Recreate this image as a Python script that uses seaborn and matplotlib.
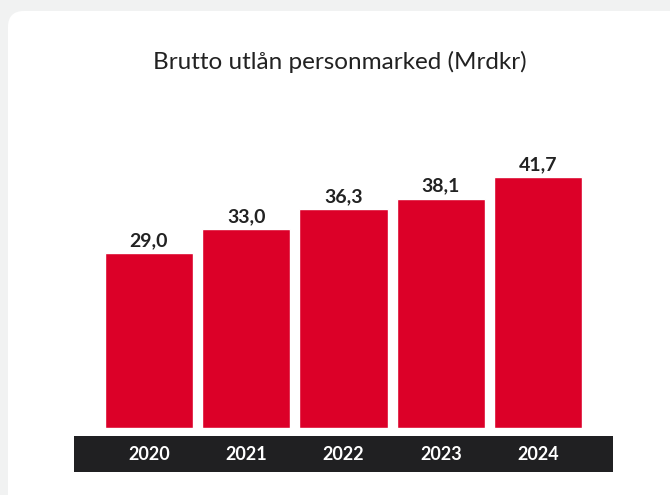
import numpy as np
import pandas as pd
import seaborn as sns
import matplotlib.pyplot as plt
from matplotlib.patches import FancyBboxPatch

years = ["2020", "2021", "2022", "2023", "2024"]
values = [29.0, 33.0, 36.3, 38.1, 41.7]
value_labels = ["29,0", "33,0", "36,3", "38,1", "41,7"]
title = "Brutto utlån personmarked (Mrdkr)"

sns.set_style("white")
plt.rcParams['font.family'] = ['Lato', 'DejaVu Sans']

W, H = 670, 495
fig = plt.figure(figsize=(W / 100, H / 100), dpi=100)
fig.patch.set_facecolor("#f1f2f2")

# white card with rounded corner, on a background axes in pixel units
bg = fig.add_axes([0, 0, 1, 1], zorder=-1)
bg.set_xlim(0, W)
bg.set_ylim(H, 0)
bg.axis("off")
bg.add_patch(FancyBboxPatch((8, 11), W + 40, H + 40, boxstyle="round,pad=0,rounding_size=16",
                            facecolor="white", edgecolor="none"))

fig.text(340 / W, 1 - 62 / H, title, ha="center", va="center", fontsize=17.5, color="#222222")

# main bars
left, right = 74 / W, 613 / W
bottom = 1 - 428 / H
top = 1 - 100 / H
ax = fig.add_axes([left, bottom, right - left, top - bottom])
df = pd.DataFrame({"year": years, "value": values})
sns.barplot(data=df, x="year", y="value", color="#dc0028", saturation=1, width=0.905, ax=ax)
ax.set_xlim(-0.77, 4.77)
ax.set_ylim(0, 328 / 6.02)
ax.bar_label(ax.containers[0], labels=value_labels, padding=3, fontsize=14,
             fontweight="bold", color="#222222")
ax.axis("off")

# dark band with years
band = fig.add_axes([left, 1 - 472 / H, right - left, 36 / H])
band.set_facecolor("#202022")
band.set_xlim(-0.77, 4.77)
band.set_ylim(0, 1)
for i, y in enumerate(years):
    band.text(i, 0.5, y, ha="center", va="center", color="white", fontsize=13, fontweight="bold")
band.set_xticks([])
band.set_yticks([])
for s in band.spines.values():
    s.set_visible(False)

fig.savefig("out.png", dpi=100, facecolor=fig.get_facecolor())
